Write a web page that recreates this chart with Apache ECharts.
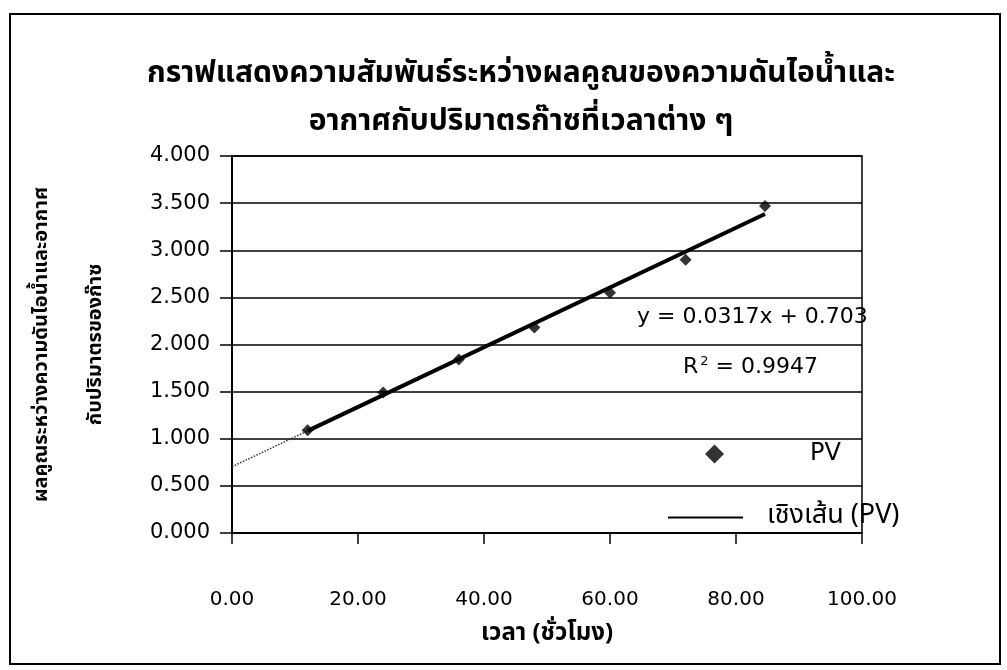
<!DOCTYPE html>
<html><head><meta charset="utf-8">
<script src="https://cdn.jsdelivr.net/npm/echarts@6/dist/echarts.min.js"></script>
<style>html,body{margin:0;padding:0;background:#fff}#c{width:1007px;height:670px}</style>
</head><body><div id="c"></div>
<script>
// ---- data ----
const titleLines = ["กราฟแสดงความสัมพันธ์ระหว่างผลคูณของความดันไอน้ำและ", "อากาศกับปริมาตรก๊าซที่เวลาต่าง ๆ"];
const xAxisTitle = "เวลา (ชั่วโมง)";
const yAxisTitleLines = ["ผลคูณระหว่างความดันไอน้ำและอากาศ", "กับปริมาตรของก๊าซ"];
const hours = [12, 24, 36, 48, 60, 72, 84.6];
const pvValues = [1.09, 1.49, 1.84, 2.18, 2.55, 2.90, 3.47];
const seriesName = "PV";
const trendName = "เชิงเส้น (PV)";
const trendSlope = 0.0317;
const trendIntercept = 0.703;
const rSquared = 0.9947;
const xTickValues = [0, 20, 40, 60, 80, 100];
const yTickValues = [0, 0.5, 1, 1.5, 2, 2.5, 3, 3.5, 4];

// ---- build ----
const thai = "'Noto Sans Thai', 'Noto Sans', 'DejaVu Sans', sans-serif";
const num = "'DejaVu Sans', 'Liberation Sans', sans-serif";
const fit = x => trendSlope * x + trendIntercept;
const pts = hours.map((h, i) => [h, pvValues[i]]);
const xFirst = hours[0], xLast = hours[hours.length - 1];

const chart = echarts.init(document.getElementById('c'), null, {renderer: 'canvas'});
chart.setOption({
  backgroundColor: '#fff',
  animation: false,
  title: {
    text: titleLines.join('\n'),
    left: 516, top: 47, textAlign: 'center',
    textStyle: {fontFamily: thai, fontWeight: 'bold', fontSize: 30, lineHeight: 48, color: '#000'}
  },
  grid: {left: 232, right: 145, top: 156, bottom: 137, show: true, borderColor: '#000', borderWidth: 1.5, backgroundColor: 'transparent'},
  xAxis: {
    type: 'value', min: xTickValues[0], max: xTickValues[xTickValues.length - 1], interval: 20,
    name: xAxisTitle, nameLocation: 'middle', nameGap: 90,
    nameTextStyle: {fontFamily: thai, fontWeight: 'bold', fontSize: 24, color: '#000'},
    axisLine: {lineStyle: {color: '#000', width: 2}},
    axisTick: {show: true, inside: false, length: 11, lineStyle: {color: '#000', width: 1.5}},
    axisLabel: {margin: 57, fontFamily: num, fontSize: 20, color: '#000', formatter: v => v.toFixed(2)},
    splitLine: {show: false}
  },
  yAxis: {
    type: 'value', min: yTickValues[0], max: yTickValues[yTickValues.length - 1], interval: 0.5,
    name: yAxisTitleLines.join('\n'), nameLocation: 'middle', nameRotate: 90, nameGap: 108,
    nameTextStyle: {fontFamily: thai, fontWeight: 'bold', fontSize: 20, lineHeight: 54, color: '#000'},
    axisLine: {show: true, lineStyle: {color: '#000', width: 2}},
    axisTick: {show: true, inside: false, length: 12, lineStyle: {color: '#000', width: 1.5}},
    axisLabel: {margin: 22, fontFamily: num, fontSize: 21, color: '#000', formatter: v => v.toFixed(3)},
    splitLine: {show: true, lineStyle: {color: '#000', width: 1.5}}
  },
  legend: [
    {data: [seriesName], left: 700, top: 437, orient: 'vertical', icon: 'diamond', itemWidth: 19, itemHeight: 19,
     textStyle: {fontFamily: num, fontSize: 24, color: '#000', padding: [22, 0, 0, 81]}},
    {data: [trendName], left: 663, top: 499, orient: 'vertical', icon: 'rect', itemWidth: 75, itemHeight: 2,
     textStyle: {fontFamily: thai, fontSize: 27, color: '#000', padding: [0, 0, 0, 19]}}
  ],
  series: [
    {name: seriesName, type: 'scatter', data: pts, symbol: 'diamond', symbolSize: 12,
     itemStyle: {color: '#000'}, z: 5},
    {name: trendName, type: 'line', data: [[xFirst, fit(xFirst)], [xLast, fit(xLast)]], symbol: 'none',
     lineStyle: {color: '#000', width: 4}, itemStyle: {color: '#000'}, z: 4},
    {name: 'trend-backcast', type: 'line', data: [[0, fit(0)], [xFirst, fit(xFirst)]], symbol: 'none',
     lineStyle: {color: '#333', width: 1.5, type: 'dotted'}, z: 3}
  ],
  graphic: [
    {type: 'rect', shape: {x: 10, y: 14, width: 990, height: 650}, style: {fill: 'none', stroke: '#000', lineWidth: 2}, silent: true, z: 0},
    {type: 'text', left: 637, top: 306, style: {text: `y = ${trendSlope}x + ${trendIntercept}`, fontFamily: num, fontSize: 22, fill: '#000'}, z: 10},
    {type: 'text', left: 683, top: 355, style: {text: `R{sup|2} = ${rSquared}`, fontFamily: num, fontSize: 22, fill: '#000',
      rich: {sup: {fontFamily: num, fontSize: 13, verticalAlign: 'top', padding: [0, 0, 12, 2]}}}, z: 10}
  ]
});
</script></body></html>
